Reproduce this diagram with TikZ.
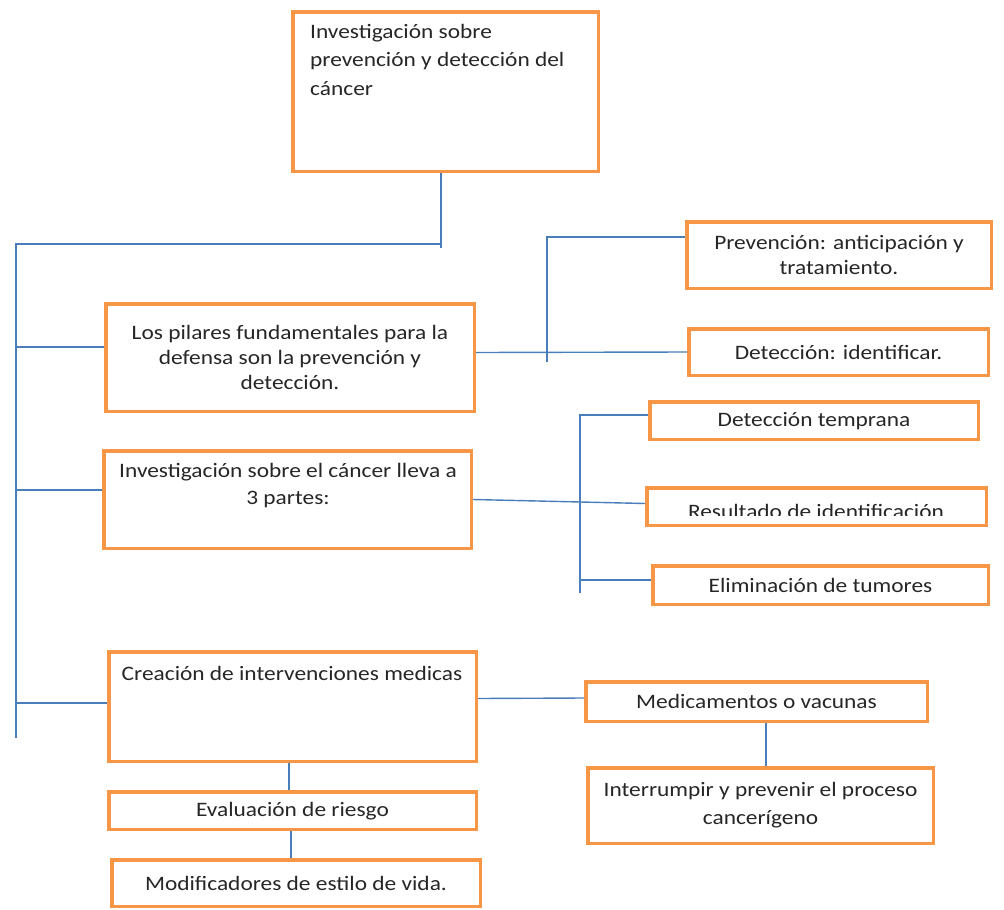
\documentclass[tikz,border=0pt]{standalone}
\usepackage{fontspec}
\setmainfont{Carlito}[FakeStretch=1.14]
\usetikzlibrary{calc}
\definecolor{borange}{RGB}{247,150,70}
\definecolor{lblue}{RGB}{74,126,187}
\definecolor{ink}{RGB}{38,38,38}
\tikzset{
 box/.style 2 args={draw=borange, line width=3.5pt, fill=white, inner sep=0pt,
   minimum width=#1, minimum height=#2, text=ink, font=\fontsize{20.5}{25}\selectfont, align=center},
 txt/.style={text=ink, font=\fontsize{20.5}{25}\selectfont, inner sep=0pt},
 link/.style={draw=lblue, line width=1.4pt},
}
\begin{document}
\begin{tikzpicture}[x=1pt,y=-1pt]
\useasboundingbox[fill=white] (0,0) rectangle (1004,910);

% boxes
\node[box={305.5pt}{159.5pt}] (top) at (445.5,91.5) {};
\node[txt, anchor=north west, align=left, font=\fontsize{20.5}{28.5}\selectfont] (ttop) at (310,24) {Investigación sobre\\prevención y detección del\\cáncer};

\node[box={368.5pt}{107.5pt}] (pil) at (290,357.5) {Los pilares fundamentales para la\\defensa son la prevención y\\detección.};

\node[box={367.5pt}{97.5pt}] (inv) at (287.5,499.5) {};
\node[txt, anchor=north, align=center, font=\fontsize{20.5}{27}\selectfont] (tinv) at (288,463) {Investigación sobre el cáncer lleva a\\3 partes:};

\node[box={367.5pt}{109.5pt}] (crea) at (292.5,706.5) {};
\node[txt, anchor=base] (tcrea) at (292,680) {Creación de intervenciones medicas};

\node[box={367.5pt}{37.5pt}, yshift=0pt, text height=16pt] (eval) at (292.5,810.5) {Evaluación de riesgo};
\node[box={368.5pt}{46.5pt}] (mod) at (296,883) {Modificadores de estilo de vida.};

\node[box={304.5pt}{66.5pt}] (prev) at (839,255) {Prevención: anticipación y\\tratamiento.};
\node[box={299.5pt}{46.5pt}] (det) at (838.5,352) {Detección: identificar.};

\node[box={328.5pt}{37.5pt}, text height=16pt] (temp) at (814,420.5) {Detección temprana};
\node[box={339.5pt}{37.5pt}] (res) at (816.5,506.5) {};
\begin{scope}
\clip (648,489) rectangle (985,515.5);
\node[txt, anchor=base] (tres) at (816,518) {Resultado de identificación};
\end{scope}
\node[box={335.5pt}{38.5pt}, text height=16pt] (elim) at (820.5,585) {Eliminación de tumores};

\node[box={341.5pt}{39.5pt}] (med) at (756.5,701.5) {Medicamentos o vacunas};
\node[box={345.5pt}{75.5pt}, font=\fontsize{20.5}{28}\selectfont] (intr) at (760.5,805.5) {Interrumpir y prevenir el proceso\\cancerígeno};

% junctions
\coordinate (j0) at (441,244);
\coordinate (L0) at (16,244);
\coordinate (L1) at (16,738);
\coordinate (b1) at (16,347);
\coordinate (b2) at (16,490);
\coordinate (b3) at (16,703);
\coordinate (p1) at (547,362);
\coordinate (p2) at (547,237);
\coordinate (q1) at (580,415);
\coordinate (q2) at (580,593);
\coordinate (q3) at (580,580);

% connectors
\draw[link] (top.south -| j0) -- ($(j0)+(0,4)$);
\draw[link] (j0) -- (L0) -- (L1);
\draw[link] (b1) -- (pil.west |- b1);
\draw[link] (b2) -- (inv.west |- b2);
\draw[link] (b3) -- (crea.west |- b3);

\draw[link] ($(pil.east)+(0,-5)$) -- (det.west);
\draw[link] (p1) -- (p2) -- (prev.west |- p2);

\draw[link] (inv.east) -- ($(res.west)+(0,-3)$);
\draw[link] (q2) -- (q1) -- (temp.west |- q1);
\draw[link] (q3) -- (elim.west |- q3);

\draw[link] ($(crea.east)+(0,-8)$) -- (med.west |- 0,698);
\draw[link] (med.south -| 766,0) -- (intr.north -| 766,0);
\draw[link] (crea.south -| 289,0) -- (eval.north -| 289,0);
\draw[link] (eval.south -| 291,0) -- (mod.north -| 291,0);
\end{tikzpicture}
\end{document}
